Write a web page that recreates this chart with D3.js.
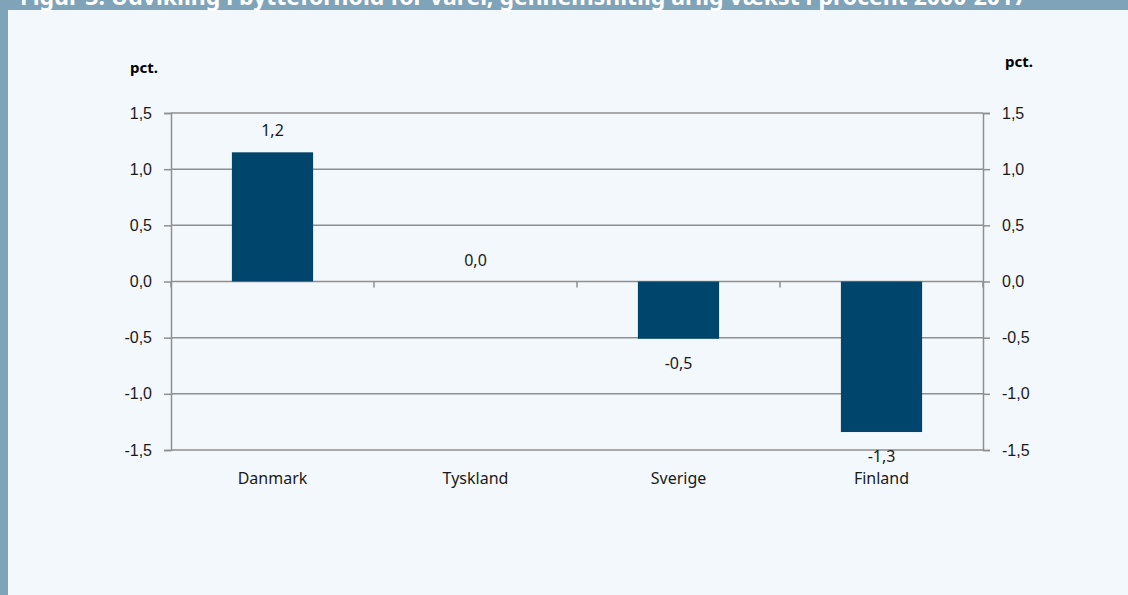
<!DOCTYPE html>
<html>
<head>
<meta charset="utf-8">
<script src="https://cdn.jsdelivr.net/npm/d3@7"></script>
<style>
  body { margin: 0; background: #f3f8fc; }
  svg { display: block; font-family: 'Noto Sans', 'Open Sans', sans-serif; }
  .tick text { font-size: 16px; fill: #1a1a1a; }
</style>
</head>
<body>
<div id="chart"></div>
<script>
const width = 1128
const height = 595

// data
const title = 'Figur 3: Udvikling i bytteforhold for varer, gennemsnitlig årlig vækst i procent 2000-2017'
const countries = ['Danmark', 'Tyskland', 'Sverige', 'Finland']
const growth = [1.15, 0.0, -0.51, -1.34]
const growthLabels = ['1,2', '0,0', '-0,5', '-1,3']
const yTicks = [-1.5, -1.0, -0.5, 0, 0.5, 1.0, 1.5]

const margin = { top: 113, right: 145, bottom: 145, left: 171 }

const svg = d3.select('#chart')
  .append('svg')
  .attr('width', width)
  .attr('height', height)

// frame (title bar is clipped at the top, as in the source)
svg.append('rect').attr('width', width).attr('height', height).attr('fill', '#f3f8fc')
svg.append('rect').attr('width', 8).attr('height', height).attr('fill', '#7fa3b8')
svg.append('rect').attr('width', width).attr('height', 10).attr('fill', '#7fa3b8')
svg.append('text')
  .attr('x', 20)
  .attr('y', 5)
  .attr('fill', '#fff')
  .style('font-size', '23px')
  .style('font-weight', 'bold')
  .text(title)

const x = d3.scaleBand()
  .domain(countries)
  .range([margin.left, width - margin.right])
  .paddingInner(0.6)
  .paddingOuter(0.3)

const xOuter = d3.scaleBand()
  .domain(countries)
  .range([margin.left, width - margin.right])

const y = d3.scaleLinear()
  .domain([-1.5, 1.5])
  .range([height - margin.bottom, margin.top])

const fmt = d => d3.format('.1f')(d).replace('.', ',').replace('−', '-')

// grid lines
svg.append('g')
  .selectAll('line')
  .data(yTicks)
  .enter()
    .append('line')
    .attr('x1', margin.left)
    .attr('x2', width - margin.right)
    .attr('y1', d => y(d))
    .attr('y2', d => y(d))
    .attr('stroke', '#8f8f8f')
    .attr('stroke-width', 1.5)

// left and right axes
const axisL = svg.append('g')
  .attr('transform', `translate(${margin.left},0)`)
  .call(d3.axisLeft(y).tickValues(yTicks).tickFormat(fmt).tickSize(7).tickPadding(12))
const axisR = svg.append('g')
  .attr('transform', `translate(${width - margin.right},0)`)
  .call(d3.axisRight(y).tickValues(yTicks).tickFormat(fmt).tickSize(7).tickPadding(12))
;[axisL, axisR].forEach(a => {
  a.select('.domain').attr('stroke', '#8f8f8f').attr('stroke-width', 1.5)
  a.selectAll('.tick line').attr('stroke', '#8f8f8f').attr('stroke-width', 1.5)
})

// category tick marks on zero line
const bounds = countries.map(c => xOuter(c)).concat([width - margin.right])
svg.append('g')
  .selectAll('line')
  .data(bounds)
  .enter()
    .append('line')
    .attr('x1', d => d)
    .attr('x2', d => d)
    .attr('y1', y(0))
    .attr('y2', y(0) + 6)
    .attr('stroke', '#8f8f8f')
    .attr('stroke-width', 1.5)

// bars
svg.append('g')
  .selectAll('rect')
  .data(countries)
  .enter()
    .append('rect')
    .attr('x', d => x(d))
    .attr('width', x.bandwidth())
    .attr('y', (d, i) => y(Math.max(0, growth[i])))
    .attr('height', (d, i) => Math.abs(y(growth[i]) - y(0)))
    .attr('fill', '#00466c')

// value labels
svg.append('g')
  .selectAll('text')
  .data(countries)
  .enter()
    .append('text')
    .attr('x', d => x(d) + x.bandwidth() / 2)
    .attr('y', (d, i) => growth[i] >= 0 ? y(growth[i]) - 16 : y(growth[i]) + 30)
    .attr('text-anchor', 'middle')
    .style('font-size', '16px')
    .attr('fill', '#1a1a1a')
    .text((d, i) => growthLabels[i])

// category labels
svg.append('g')
  .selectAll('text')
  .data(countries)
  .enter()
    .append('text')
    .attr('x', d => xOuter(d) + xOuter.bandwidth() / 2)
    .attr('y', height - margin.bottom + 34)
    .attr('text-anchor', 'middle')
    .style('font-size', '16px')
    .attr('fill', '#1a1a1a')
    .text(d => d)

// unit labels
svg.append('text').attr('x', 130).attr('y', 73)
  .style('font-size', '15px').style('font-weight', 'bold').text('pct.')
svg.append('text').attr('x', 1005).attr('y', 67)
  .style('font-size', '15px').style('font-weight', 'bold').text('pct.')
</script>
</body>
</html>
